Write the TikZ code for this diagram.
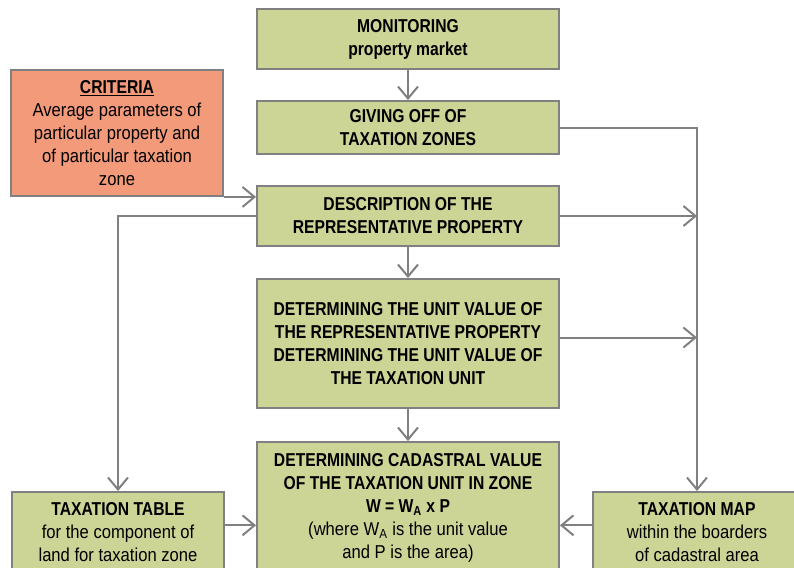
\documentclass[tikz,border=0pt]{standalone}
\usepackage{fontspec}
\setmainfont[FakeStretch=0.89, BoldFeatures={FakeStretch=0.84}]{Liberation Sans}
\usetikzlibrary{positioning,arrows.meta}
\definecolor{boxgreen}{RGB}{204,212,150}
\definecolor{boxsalmon}{RGB}{242,154,122}
\definecolor{linegray}{RGB}{128,128,128}

\begin{document}
\begin{tikzpicture}[x=0.75pt, y=-0.75pt,
        every node/.style={font=\fontsize{14}{17.25}\selectfont},
        greenbox/.style={draw=linegray, line width=1.4pt, fill=boxgreen, align=center, inner sep=0pt},
        link/.style={linegray, line width=1.5pt, -{Straight Barb[length=9pt,width=15pt]}}]
        \useasboundingbox (0,0) rectangle (794,568);

        % Main column
        \node[greenbox, minimum width=226.5pt, minimum height=45pt, font=\fontsize{14}{17.25}\selectfont\bfseries] (mon) at (408,39)
            {MONITORING\\property market};
        \node[greenbox, minimum width=226.5pt, minimum height=39.75pt, font=\fontsize{14}{17.25}\selectfont\bfseries] (give) at (408,127.5)
            {GIVING OFF OF\\TAXATION ZONES};
        \node[greenbox, minimum width=226.5pt, minimum height=45pt, font=\fontsize{14}{17.25}\selectfont\bfseries] (desc) at (408,216)
            {DESCRIPTION OF THE\\REPRESENTATIVE PROPERTY};
        \node[greenbox, minimum width=226.5pt, minimum height=96.75pt, font=\fontsize{14}{17.25}\selectfont\bfseries] (unit) at (408,343.5)
            {DETERMINING THE UNIT VALUE OF\\THE REPRESENTATIVE PROPERTY\\DETERMINING THE UNIT VALUE OF\\THE TAXATION UNIT};
        \node[greenbox, minimum width=226.5pt, minimum height=99pt] (cad) at (408,508)
            {\textbf{DETERMINING CADASTRAL VALUE}\\\textbf{OF THE TAXATION UNIT IN ZONE}\\\textbf{W = W\textsubscript{A} x P}\\(where W\textsubscript{A} is the unit value\\and P is the area)};

        % Side boxes
        \node[greenbox, fill=boxsalmon, minimum width=159pt, minimum height=94.5pt] (crit) at (117,133)
            {\textbf{\underline{CRITERIA}}\\Average parameters of\\particular property and\\of particular taxation\\zone};
        \node[greenbox, minimum width=159pt, minimum height=60pt] (table) at (118,532)
            {\textbf{TAXATION TABLE}\\for the component of\\land for taxation zone};
        \node[greenbox, minimum width=156pt, minimum height=60pt] (map) at (697,532)
            {\textbf{TAXATION MAP}\\within the boarders\\of cadastral area};

        % Connectors
        \draw[link] (mon) -- (give);
        \draw[link] (desc) -- (unit);
        \draw[link] (unit) -- (cad);
        \draw[link] (give.east) -| (map.north);
        \draw[link] (desc.east) -- (desc.east -| map.north);
        \draw[link] ([yshift=4.5pt]unit.east) -- ([yshift=4.5pt]unit.east -| map.north);
        \draw[link] (crit.south east) -- (crit.south east -| desc.west);
        \draw[link] (desc.west) -| (table.north);
        \draw[link] ([yshift=5pt]table.east) -- ([yshift=5pt]table.east -| cad.west);
        \draw[link] ([yshift=5pt]map.west) -- ([yshift=5pt]map.west -| cad.east);
    \end{tikzpicture}
\end{document}
